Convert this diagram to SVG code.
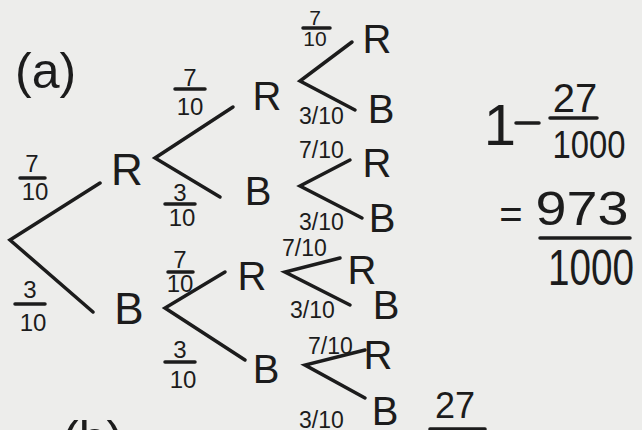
<svg xmlns="http://www.w3.org/2000/svg" width="642" height="430" viewBox="0 0 642 430">
<style>
text{font-family:"Liberation Sans","DejaVu Sans",sans-serif;fill:#1c1c1c}
.n{font-size:40px;text-anchor:middle}
.f{font-size:24px;text-anchor:middle}
.s{font-size:23px}
.c path,.bar{stroke:#1c1c1c;stroke-width:3.5;fill:none;stroke-linecap:round}
</style>
<rect width="642" height="430" fill="#ededeb"/>
<text x="15" y="88" style="font-size:50px">(a)</text>
<g class="c" id="connectors">
<path d="M100 183 L10 240 L93 312"/>
<path d="M233 107 L155 158 L220 197"/>
<path d="M225 272 L165 308 L245 360"/>
<path d="M352 42 L300 81 L355 110"/>
<path d="M350 160 L300 186 L362 218"/>
<path d="M340 258 L285 272 L350 305"/>
<path d="M365 350 L305 365 L365 398"/>
</g>
<g id="label-l1">
<text class="f" x="32" y="172">7</text><path class="bar" d="M20 178 H45"/><text class="f" x="35" y="200">10</text>
<text class="f" x="30" y="298">3</text><path class="bar" d="M15 304 H45"/><text class="f" x="33" y="331">10</text>
</g>
<g id="label-l2">
<text class="f" x="190" y="86">7</text><path class="bar" d="M175 89 H205"/><text class="f" x="190" y="115">10</text>
<text class="f" x="180" y="201">3</text><path class="bar" d="M165 204 H195"/><text class="f" x="182" y="226">10</text>
<text class="f" x="180" y="268">7</text><path class="bar" d="M168 272 H193"/><text class="f" x="180" y="292">10</text>
<text class="f" x="180" y="358">3</text><path class="bar" d="M165 362 H195"/><text class="f" x="183" y="388">10</text>
</g>
<g id="label-l3">
<text class="f" x="315" y="25" style="font-size:21px">7</text><path class="bar" d="M303 28 H330"/><text class="f" x="315" y="46" style="font-size:21px">10</text>
<text class="s" x="299" y="124">3/10</text>
<text class="s" x="299" y="158">7/10</text>
<text class="s" x="299" y="230">3/10</text>
<text class="s" x="282" y="256">7/10</text>
<text class="s" x="290" y="318">3/10</text>
<text class="s" x="308" y="354">7/10</text>
<text class="s" x="299" y="428">3/10</text>
</g>
<g id="n-R1"><text class="n" x="127" y="185" style="font-size:44px">R</text></g>
<g id="n-B1"><text class="n" x="129" y="324" style="font-size:44px">B</text></g>
<g id="n-RR"><text class="n" x="267" y="110">R</text></g>
<g id="n-RB"><text class="n" x="258" y="205">B</text></g>
<g id="n-BR"><text class="n" x="252" y="290">R</text></g>
<g id="n-BB"><text class="n" x="266" y="383">B</text></g>
<g id="n-RRR"><text class="n" x="377" y="53">R</text></g>
<g id="n-RRB"><text class="n" x="381" y="123">B</text></g>
<g id="n-RBR"><text class="n" x="377" y="177">R</text></g>
<g id="n-RBB"><text class="n" x="382" y="232">B</text></g>
<g id="n-BRR"><text class="n" x="362" y="284">R</text></g>
<g id="n-BRB"><text class="n" x="386" y="319">B</text></g>
<g id="n-BBR"><text class="n" x="378" y="369">R</text></g>
<g id="n-BBB"><text class="n" x="385" y="425">B</text></g>
<g id="calc">
<text x="500" y="145" style="font-size:58px;text-anchor:middle">1</text>
<path class="bar" d="M516 123 H539"/>
<text x="575" y="112" style="font-size:40px;text-anchor:middle">27</text>
<path class="bar" d="M550 118 H597"/>
<text x="589" y="158" style="font-size:38px;text-anchor:middle" textLength="73" lengthAdjust="spacingAndGlyphs">1000</text>
<text x="511" y="228" style="font-size:40px;text-anchor:middle">=</text>
<text x="582" y="225" style="font-size:48px;text-anchor:middle" textLength="93" lengthAdjust="spacingAndGlyphs">973</text>
<path class="bar" d="M540 238 H630"/>
<text x="591" y="285" style="font-size:50px;text-anchor:middle" textLength="86" lengthAdjust="spacingAndGlyphs">1000</text>
<text x="455" y="418" style="font-size:36px;text-anchor:middle">27</text>
<path class="bar" d="M430 429 H485"/>
<text x="62" y="456" style="font-size:50px">(b)</text>
</g>
</svg>
